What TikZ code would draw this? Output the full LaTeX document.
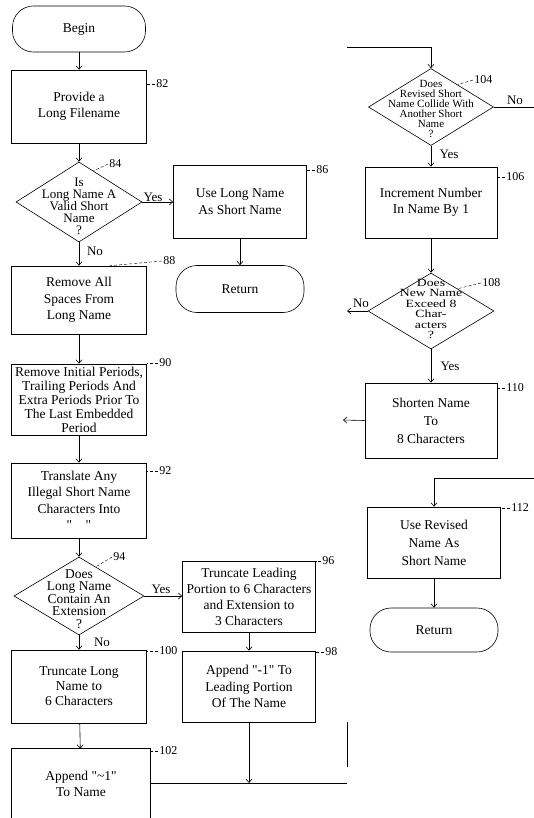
\documentclass[tikz,border=0pt]{standalone}
\usepackage{fontspec}
\setmainfont{Liberation Serif}[Ligatures=TeXOff]
\newfontfamily\widefont{Liberation Serif}[FakeStretch=1.25, Ligatures=TeXOff]
\usetikzlibrary{shapes.geometric,arrows.meta}

\begin{document}
\begin{tikzpicture}[x=1pt,y=-1pt,line width=0.6pt,
  box/.style={draw, minimum width=135pt, minimum height=71pt, inner sep=2pt, align=center, font=\fontsize{13.5}{16.5}\selectfont},
  term/.style={draw, rounded corners=21pt, minimum width=130pt, minimum height=46pt, font=\fontsize{13.5}{16}\selectfont},
  dec/.style={draw, diamond, inner sep=0pt},
  dtext/.style={align=center, inner sep=0pt, font=\fontsize{13}{12}\selectfont},
  num/.style={anchor=west, inner sep=1pt, font=\fontsize{12}{14}\selectfont},
  ans/.style={inner sep=1pt, font=\fontsize{13}{15}\selectfont},
  lead/.style={line width=0.4pt, densely dashed},
  flow/.style={-{Straight Barb[length=3.5pt,width=6pt]}}]
\useasboundingbox (0,0) rectangle (534,818);

\node[term, minimum width=133pt] (begin) at (79,29) {Begin};
\node[box, minimum height=73pt] (b82) at (79,106.5) {Provide a\\Long Filename};
\node[dec, minimum width=126pt, minimum height=80pt] (d84) at (79,202) {};
\node[dtext, font=\fontsize{13}{12}\selectfont] (t84) at (79,206) {Is\\Long Name A\\Valid Short\\Name\\?};
\node[box, minimum width=133pt, minimum height=73pt] (b86) at (240,201.5) {Use Long Name\\As Short Name};
\node[term, minimum width=128pt, minimum height=47pt] (ret1) at (240,289) {Return};
\node[box, minimum height=68pt] (b88) at (79,300) {Remove All\\Spaces From\\Long Name};
\node[box, font=\fontsize{13.5}{14}\selectfont] (b90) at (79,399.5) {Remove Initial Periods,\\Trailing Periods And\\Extra Periods Prior To\\The Last Embedded\\Period};
\node[box, minimum height=75pt] (b92) at (79,500.5) {Translate Any\\Illegal Short Name\\Characters Into\\"\quad"};
\node[dec, minimum width=130pt, minimum height=78pt] (d94) at (79,596) {};
\node[dtext, font=\fontsize{13.5}{12.5}\selectfont] (t94) at (79,599) {Does\\Long Name\\Contain An\\Extension\\?};
\node[box, minimum width=133pt, font=\fontsize{13.5}{16}\selectfont] (b96) at (249,596.5) {Truncate Leading\\Portion to 6 Characters\\and Extension to\\3 Characters};
\node[box, minimum width=133pt] (b98) at (249,686.5) {Append "-1" To\\Leading Portion\\Of The Name};
\node[box, minimum height=73pt, font=\fontsize{13.5}{15}\selectfont] (b100) at (79,686.5) {Truncate Long\\Name to\\6 Characters};
\node[minimum width=138pt, minimum height=69pt, align=center, font=\fontsize{13.5}{16}\selectfont] (b102) at (81,783.5) {Append "\textasciitilde 1"\\To Name};

\node[dec, minimum width=125pt, minimum height=77pt] (d104) at (431,107) {};
\node[dtext, font=\fontsize{11}{10}\selectfont] (t104) at (431,109) {Does\\Revised Short\\Name Collide With\\Another Short\\Name\\?};
\node[box, minimum width=132pt] (b106) at (431,202.5) {Increment Number\\In Name By 1};
\node[dec, minimum width=126pt, minimum height=76pt] (d108) at (431,311) {};
\node[dtext, font=\widefont\fontsize{11}{10.5}\selectfont] (t108) at (431,309) {Does\\New Name\\Exceed 8\\Char-\\acters\\?};
\node[box, minimum width=132pt, minimum height=75pt, font=\fontsize{13.5}{18}\selectfont] (b110) at (431,420.5) {Shorten Name\\To\\8 Characters};
\node[box, minimum width=133pt, font=\fontsize{13.5}{18}\selectfont] (b112) at (434,542.5) {Use Revised\\Name As\\Short Name};
\node[term, minimum width=128pt, minimum height=44pt] (ret2) at (434,630) {Return};

\coordinate (inA) at (347,47);
\coordinate (outNo) at (534,107);
\coordinate (outB) at (347,311);
\coordinate (outC) at (343,420);
\coordinate (inB) at (534,478);
\coordinate (join) at (249,783);
\coordinate (outA) at (347,783);

\draw (b102.south west) -- (b102.north west) -- (b102.north east) -- (b102.south east);

\draw[flow] (begin) -- (b82);
\draw[flow] (b82) -- (d84);
\draw[flow] (d84.east) -- (d84.east -| b86.west);
\draw[flow] (b86) -- (ret1);
\draw[flow] (d84.south) -- (b88);
\draw[flow] (b88) -- (b90);
\draw[flow] (b90) -- (b92);
\draw[flow] (b92) -- (d94);
\draw[flow] (d94.east) -- (d94.east -| b96.west);
\draw[flow] (b96) -- (b98);
\draw[flow] (d94.south) -- (b100);
\draw[flow] (b100) -- (b102);
\draw (b102.east |- join) -- (outA);
\draw[flow] (b98) -- (join);
\draw (347,722) -- (347,767);

\draw[flow] (inA) -| (d104.north);
\draw (d104.east) -- (outNo);
\draw[flow] (d104.south) -- (b106);
\draw[flow] (b106) -- (d108);
\draw[flow] (d108.west) -- (outB);
\draw[flow] (d108.south) -- (b110);
\draw[flow] (b110.west) -- (outC);
\draw[flow] (inB) -| (b112.north);
\draw[flow] (b112) -- (ret2);

\node[ans] (y84) at (153,197) {Yes};
\node[ans] (n84) at (95,251) {No};
\node[ans] (y94) at (161,589) {Yes};
\node[ans] (n94) at (102,642) {No};
\node[ans] (n104) at (515,100) {No};
\node[ans] (y104) at (449,154) {Yes};
\node[ans] (n108) at (361,303) {No};
\node[ans] (y108) at (450,366) {Yes};

\node[num] (l82) at (155,84) {82};
\node[num] (l84) at (108,164) {84};
\node[num] (l86) at (315,170) {86};
\node[num] (l88) at (162,261) {88};
\node[num] (l90) at (158,363) {90};
\node[num] (l92) at (158,471) {92};
\node[num] (l94) at (112,557) {94};
\node[num] (l96) at (321,561) {96};
\node[num] (l98) at (324,652) {98};
\node[num] (l100) at (158,651) {100};
\node[num] (l102) at (158,751) {102};
\node[num] (l104) at (473,80) {104};
\node[num] (l106) at (505,177) {106};
\node[num] (l108) at (481,283) {108};
\node[num] (l110) at (505,388) {110};
\node[num] (l112) at (510,508) {112};

\draw[lead] (l82.west) -- (b82.east |- l82.west);
\draw[lead] (l84.west) -- (d84.65);
\draw[lead] (l86.west) -- (b86.east |- l86.west);
\draw[lead] (l88.west) -- ([xshift=31pt]b88.north);
\draw[lead] (l90.west) -- (b90.east |- l90.west);
\draw[lead] (l92.west) -- (b92.east |- l92.west);
\draw[lead] (l94.west) -- (d94.60);
\draw[lead] (l96.west) -- (b96.east |- l96.west);
\draw[lead] (l98.west) -- (b98.east |- l98.west);
\draw[lead] (l100.west) -- (b100.east |- l100.west);
\draw[lead] (l102.west) -- (b102.east |- l102.west);
\draw[lead] (l104.west) -- (d104.40);
\draw[lead] (l106.west) -- (b106.east |- l106.west);
\draw[lead] (l108.west) -- (d108.40);
\draw[lead] (l110.west) -- (b110.east |- l110.west);
\draw[lead] (l112.west) -- (b112.east |- l112.west);
\end{tikzpicture}
\end{document}
